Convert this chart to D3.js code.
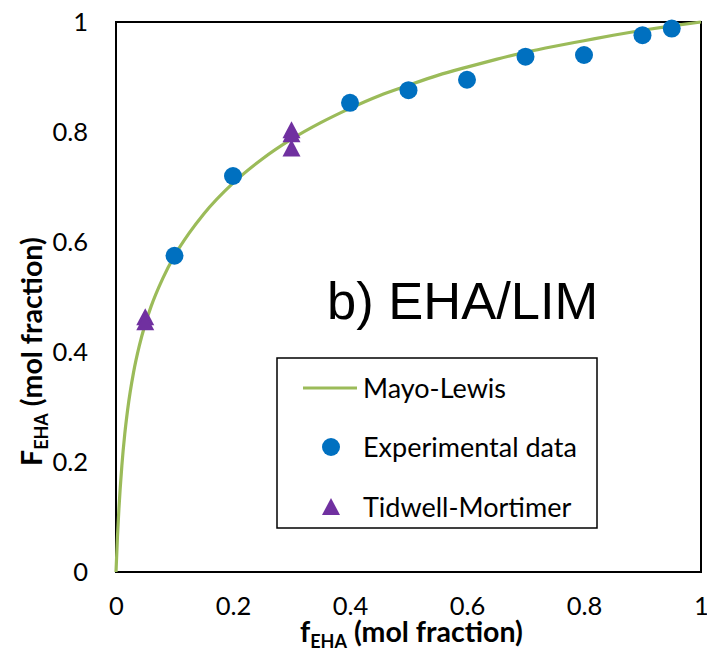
<!DOCTYPE html>
<html><head><meta charset="utf-8">
<script src="https://cdn.jsdelivr.net/npm/d3@7"></script>
<style>body{margin:0;background:#fff}svg{display:block}</style>
</head><body>
<svg id="c" width="707" height="648"></svg>
<script>
// Mayo-Lewis curve
const mlF = [0, 0.0025, 0.005, 0.01, 0.015, 0.02, 0.03, 0.04, 0.05, 0.06, 0.08, 0.1, 0.125, 0.15, 0.2, 0.25, 0.3, 0.35, 0.4, 0.45, 0.5, 0.55, 0.6, 0.65, 0.7, 0.75, 0.8, 0.85, 0.9, 0.95, 1];
const mlY = [0, 0.064, 0.115, 0.193, 0.251, 0.296, 0.363, 0.412, 0.451, 0.483, 0.534, 0.575, 0.616, 0.651, 0.707, 0.751, 0.787, 0.817, 0.843, 0.866, 0.885, 0.903, 0.918, 0.932, 0.945, 0.956, 0.966, 0.976, 0.985, 0.993, 1];
// Experimental data
const expF = [0.1, 0.2, 0.4, 0.5, 0.6, 0.7, 0.8, 0.9, 0.95];
const expY = [0.575, 0.72, 0.853, 0.876, 0.895, 0.937, 0.94, 0.976, 0.988];
// Tidwell-Mortimer
const tmF = [0.05, 0.05, 0.3, 0.3, 0.3];
const tmY = [0.463, 0.454, 0.803, 0.796, 0.770];
const ticks = [0, 0.2, 0.4, 0.6, 0.8, 1];
const legendLabels = ["Mayo-Lewis", "Experimental data", "Tidwell-Mortimer"];

const svg = d3.select("#c");
const L = 116, R = 701, T = 22, B = 572;
const x = d3.scaleLinear().domain([0, 1]).range([L, R]);
const y = d3.scaleLinear().domain([0, 1]).range([B, T]);
const font = "Lato, 'Open Sans', sans-serif";
const green = "#9BBB59", blue = "#0070C0", purple = "#7030A0";

// axes (labels only)
const xAxis = svg.append("g").attr("transform", `translate(0,${B})`)
  .call(d3.axisBottom(x).tickValues(ticks).tickSize(0).tickPadding(25).tickFormat(d3.format("~g")));
const yAxis = svg.append("g").attr("transform", `translate(${L},0)`)
  .call(d3.axisLeft(y).tickValues(ticks).tickSize(0).tickPadding(28).tickFormat(d3.format("~g")));
[xAxis, yAxis].forEach(g => {
  g.select(".domain").remove();
  g.selectAll("text").attr("font-family", font).attr("font-size", 25.5).attr("fill", "#000");
});

// plot border
svg.append("rect").attr("x", L).attr("y", T).attr("width", R - L).attr("height", B - T)
  .attr("fill", "none").attr("stroke", "#000").attr("stroke-width", 2);

// curve
const pts = mlF.map((f, i) => [f, mlY[i]]);
svg.append("path").datum(pts)
  .attr("d", d3.line().x(d => x(d[0])).y(d => y(d[1])).curve(d3.curveMonotoneX))
  .attr("fill", "none").attr("stroke", green).attr("stroke-width", 3.2);

// circles
svg.append("g").selectAll("circle").data(expF.map((f, i) => [f, expY[i]])).join("circle")
  .attr("cx", d => x(d[0])).attr("cy", d => y(d[1])).attr("r", 9).attr("fill", blue);

// triangles
const tri = (cx, cy) => `M${cx},${cy - 9}L${cx + 9},${cy + 8}L${cx - 9},${cy + 8}Z`;
svg.append("g").selectAll("path").data(tmF.map((f, i) => [f, tmY[i]])).join("path")
  .attr("d", d => tri(x(d[0]), y(d[1]))).attr("fill", purple);

// title
svg.append("text").attr("x", 327).attr("y", 319).text("b) EHA/LIM")
  .attr("font-family", "'Liberation Sans', Arial, sans-serif").attr("font-size", 52.5).attr("fill", "#000");

// legend
const lg = svg.append("g");
lg.append("rect").attr("x", 277).attr("y", 358).attr("width", 320).attr("height", 170)
  .attr("fill", "#fff").attr("stroke", "#000").attr("stroke-width", 1.5);
const rows = [388, 447, 507];
lg.append("line").attr("x1", 303).attr("x2", 357).attr("y1", rows[0]).attr("y2", rows[0])
  .attr("stroke", green).attr("stroke-width", 3.2);
lg.append("circle").attr("cx", 331).attr("cy", rows[1]).attr("r", 9).attr("fill", blue);
lg.append("path").attr("d", tri(331, rows[2])).attr("fill", purple);
lg.selectAll("text").data(legendLabels).join("text")
  .attr("x", 363).attr("y", (d, i) => rows[i]).attr("dy", "0.36em").text(d => d)
  .attr("font-family", font).attr("font-size", 27).attr("fill", "#000");

// axis titles
const xt = svg.append("text").attr("x", 300).attr("y", 642)
  .attr("font-family", font).attr("font-size", 28.5).attr("font-weight", "bold").attr("fill", "#000");
xt.append("tspan").text("f");
xt.append("tspan").text("EHA").attr("font-size", 18).attr("dy", 6);
xt.append("tspan").text(" (mol fraction)").attr("dy", -6);

const yt = svg.append("text").attr("transform", "translate(42,466) rotate(-90)")
  .attr("font-family", font).attr("font-size", 28.5).attr("font-weight", "bold").attr("fill", "#000");
yt.append("tspan").text("F");
yt.append("tspan").text("EHA").attr("font-size", 18).attr("dy", 6);
yt.append("tspan").text(" (mol fraction)").attr("dy", -6);
</script>
</body></html>
